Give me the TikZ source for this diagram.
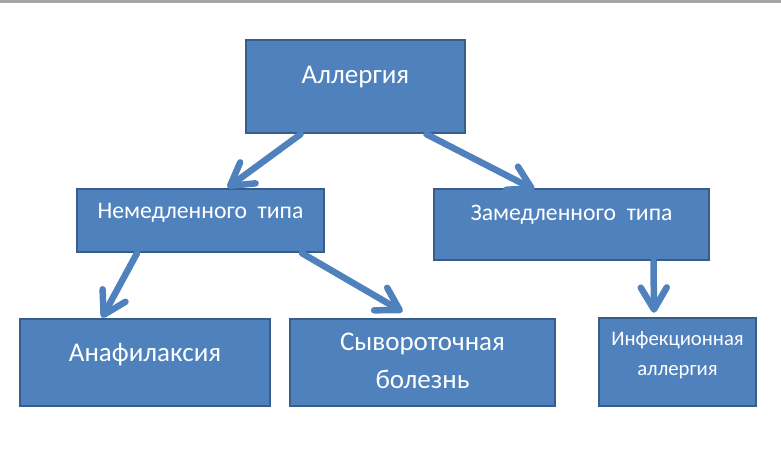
\documentclass[tikz,border=0pt]{standalone}
\usepackage{fontspec}
\setmainfont{Carlito}
\usetikzlibrary{positioning, arrows.meta}

\definecolor{boxfill}{HTML}{4F81BD}
\definecolor{boxline}{HTML}{385D8A}
\definecolor{topline}{HTML}{A6A6A6}

\tikzset{
  box/.style={rectangle, draw=boxline, fill=boxfill, line width=2.5pt, inner sep=0pt},
  boxtext/.style={text=white, align=center, inner sep=0pt},
  bigtext/.style={boxtext, font=\fontsize{27pt}{38pt}\selectfont},
  midtext/.style={boxtext, font=\fontsize{23.7pt}{28pt}\selectfont},
  smalltext/.style={boxtext, font=\fontsize{20.7pt}{30pt}\selectfont},
  link/.style={draw=boxfill, line width=6.5pt, line cap=round,
    -{Straight Barb[length=22pt, width=26pt, round]}}
}

\begin{document}
\begin{tikzpicture}[x=1pt, y=-1pt]
      \useasboundingbox (0,0) rectangle (781,448);
      \fill[topline] (0,0) rectangle (781,2.5);

      \node[box, minimum width=219pt, minimum height=93pt,
        label={[bigtext, yshift=9.5pt]center:Аллергия}] (allergy) at (355.5,86.5) {};

      \node[box, minimum width=247pt, minimum height=63pt,
        label={[midtext, yshift=7.5pt]center:Немедленного~~типа}] (immediate) at (200.5,220.5) {};
      \node[box, minimum width=275pt, minimum height=71pt,
        label={[midtext, yshift=9.5pt]center:Замедленного~~типа}] (delayed) at (571.5,224.5) {};

      \node[box, minimum width=250pt, minimum height=87pt,
        label={[bigtext, yshift=7.5pt]center:Анафилаксия}] (anaphylaxis) at (145,362.5) {};
      \node[box, minimum width=265pt, minimum height=87pt,
        label={[bigtext, yshift=1.5pt]center:Сывороточная\\болезнь}] (serum) at (422.5,362.5) {};
      \node[box, minimum width=157pt, minimum height=88pt,
        label={[smalltext, yshift=7pt]center:Инфекционная\\аллергия}] (infection) at (677.5,362) {};


      \draw[link] ([xshift=-55pt]allergy.south) -- ([xshift=27pt]immediate.north);
      \draw[link] ([xshift=71pt]allergy.south) -- ([xshift=-37pt, yshift=-2pt]delayed.north);

      \draw[link] ([xshift=-63.5pt]immediate.south) -- ([xshift=-43pt]anaphylaxis.north);
      \draw[link] ([xshift=101.5pt]immediate.south) -- ([xshift=-20pt, yshift=6pt]serum.north);

      \draw[link] ([xshift=82pt]delayed.south) -- ([xshift=-23.5pt, yshift=4pt]infection.north);
    \end{tikzpicture}
\end{document}
